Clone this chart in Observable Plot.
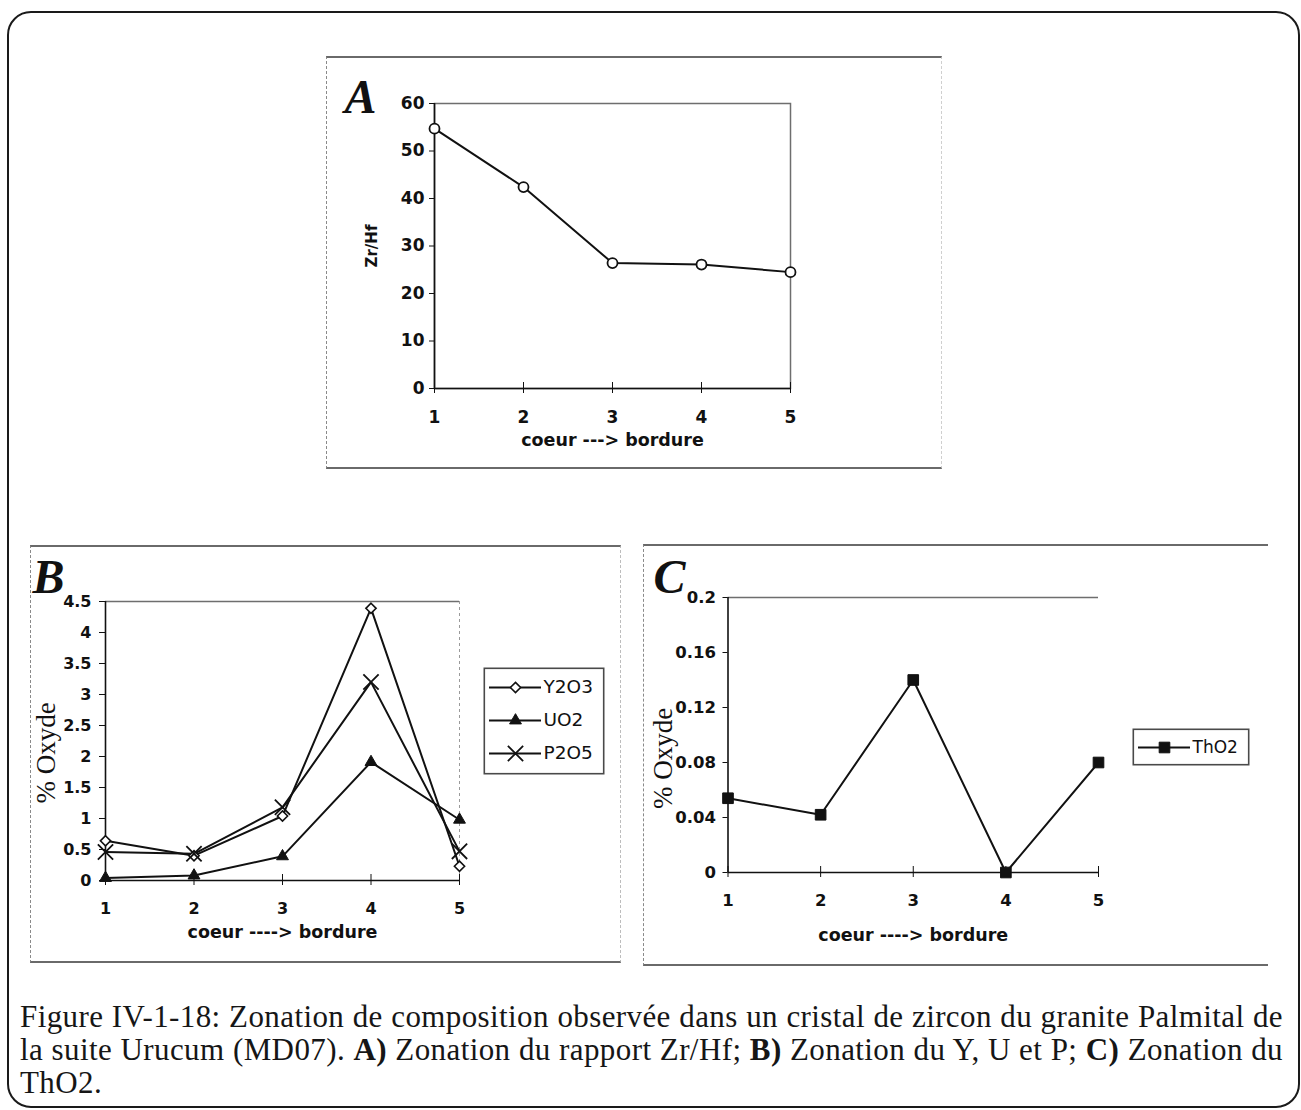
<!DOCTYPE html>
<html>
<head>
<meta charset="utf-8">
<script src="https://cdn.jsdelivr.net/npm/d3@7"></script>
<script src="https://cdn.jsdelivr.net/npm/@observablehq/plot@0.6"></script>
<style>
  html, body { margin: 0; padding: 0; background: #fff; }
  #root { position: relative; width: 1301px; height: 1110px; overflow: hidden; background: #fff; }
  .abs { position: absolute; box-sizing: border-box; }
  .outer { left: 7px; top: 11px; width: 1293px; height: 1097px; border: 2.5px solid #1a1a1a; border-radius: 24px; }
  .panel { border-top: 2px solid #6a6a6a; border-bottom: 2px solid #6a6a6a; border-left: 1.5px dashed #8a8a8a; }
  .cap { font-family: "Liberation Serif", "Times New Roman", serif; font-size: 31px; line-height: 33px; letter-spacing: 0.4px; color: #161616; }
  .cap .ln { display: block; height: 33px; }
  .cap .ln span { white-space: nowrap; display: inline-block; }
  .cap b { font-weight: bold; }
  svg { overflow: visible; }
</style>
</head>
<body>
<div id="root">
  <div class="abs outer"></div>
  <div class="abs panel" style="left:326px;top:56px;width:616px;height:413px;border-right:1px dashed #cfcfcf;"></div>
  <div class="abs panel" style="left:30px;top:545px;width:591px;height:418px;border-right:1px dashed #bdbdbd;"></div>
  <div class="abs panel" style="left:643px;top:544px;width:625px;height:422px;"></div>
  <div id="plotA" class="abs" style="left:330px;top:60px;"></div>
  <div id="plotB" class="abs" style="left:32px;top:550px;"></div>
  <div id="legB" class="abs" style="left:483px;top:667px;"></div>
  <div id="plotC" class="abs" style="left:645px;top:548px;"></div>
  <div id="legC" class="abs" style="left:1132px;top:728px;"></div>
  <div class="abs cap" style="left:20px;top:1000px;width:1263px;">
    <div class="ln"><span class="fit">Figure IV-1-18: Zonation de composition observée dans un cristal de zircon du granite Palmital de</span></div>
    <div class="ln"><span class="fit">la suite Urucum (MD07). <b>A)</b> Zonation du rapport Zr/Hf; <b>B)</b> Zonation du Y, U et P; <b>C)</b> Zonation du</span></div>
    <div class="ln"><span>ThO2.</span></div>
  </div>
</div>
<script>
// ---------------- data ----------------
const positions = [1, 2, 3, 4, 5];            // coeur ---> bordure
const xTicks = [1, 2, 3, 4, 5];
const xTitleA = "coeur ---> bordure";
const xTitleBC = "coeur ----> bordure";

// Panel A : Zr/Hf
const zrHf = [54.7, 42.4, 26.4, 26.1, 24.5];
const yTicksA = [0, 10, 20, 30, 40, 50, 60];
const yTitleA = "Zr/Hf";

// Panel B : oxides (%)
const seriesB = ["Y2O3", "UO2", "P2O5"];
const y2o3 = [0.64, 0.40, 1.04, 4.39, 0.23];
const uo2  = [0.04, 0.08, 0.39, 1.91, 0.98];
const p2o5 = [0.46, 0.43, 1.18, 3.20, 0.47];
const yTicksB = [0, 0.5, 1, 1.5, 2, 2.5, 3, 3.5, 4, 4.5];

// Panel C : ThO2 (%)
const seriesC = ["ThO2"];
const tho2 = [0.054, 0.042, 0.140, 0.0, 0.080];
const yTicksC = [0, 0.04, 0.08, 0.12, 0.16, 0.2];

const yTitleBC = "% Oxyde";
const panelLetters = ["A", "B", "C"];

// ---------------- styles ----------------
const INK = "#111";
const FRAME = "#6e6e6e";
const baseStyle = {fontFamily: "'DejaVu Sans', sans-serif", fontWeight: "bold", background: "transparent", color: INK, overflow: "visible"};
const markerStyle = {
  "Y2O3": {symbol: "diamond2", r: 4.6, fill: "white", stroke: INK, strokeWidth: 1.6},
  "UO2":  {symbol: "triangle", r: 4.4, fill: INK, stroke: INK, strokeWidth: 1},
  "P2O5": {symbol: "times", r: 7, fill: "none", stroke: INK, strokeWidth: 1.8},
  "ThO2": {symbol: "square", r: 6, fill: INK, stroke: INK, strokeWidth: 1}
};
const letterStyle = {frameAnchor: "top-left", textAnchor: "start", lineAnchor: "middle", fontFamily: "'Liberation Serif', serif", fontStyle: "italic", fontWeight: "bold", fontSize: 48};
const serifTitle = {frameAnchor: "left", rotate: -90, textAnchor: "middle", lineAnchor: "middle", fontFamily: "'Liberation Serif', serif", fontWeight: "normal", fontSize: 27};

function axes(yTicks, o) {
  return [
    Plot.axisY({ticks: yTicks, tickSize: o.yTickSize, tickPadding: o.yPad, tickFormat: d => String(d), label: null, fontSize: o.fs, stroke: INK}),
    Plot.axisX({ticks: xTicks, tickSize: 11, dy: -6, tickFormat: () => "", label: null, stroke: INK}),
    Plot.axisX({ticks: xTicks, tickSize: 0, tickPadding: o.xPad, tickFormat: d => String(d), label: null, fontSize: o.fs})
  ];
}

// ---------------- Panel A ----------------
const dataA = positions.map((p, i) => ({pos: p, val: zrHf[i]}));
const plotA = Plot.plot({
  width: 600, height: 400,
  marginLeft: 104, marginRight: 140, marginTop: 43, marginBottom: 72,
  x: {domain: [xTicks[0], xTicks[xTicks.length - 1]], label: null},
  y: {domain: [yTicksA[0], yTicksA[yTicksA.length - 1]], label: null},
  style: {...baseStyle, fontSize: "17px"},
  marks: [
    Plot.frame({stroke: FRAME, strokeWidth: 1.5}),
    Plot.ruleY([yTicksA[0]], {stroke: INK, strokeWidth: 1.6}),
    Plot.ruleX([xTicks[0]], {stroke: INK, strokeWidth: 1.6}),
    ...axes(yTicksA, {yTickSize: 5, yPad: 5, xPad: 22, fs: 17}),
    Plot.line(dataA, {x: "pos", y: "val", stroke: INK, strokeWidth: 2}),
    Plot.dot(dataA, {x: "pos", y: "val", r: 5, fill: "white", stroke: INK, strokeWidth: 1.8}),
    Plot.text([yTitleA], {frameAnchor: "left", rotate: -90, textAnchor: "middle", lineAnchor: "middle", dx: -62, fontSize: 15}),
    Plot.text([xTitleA], {frameAnchor: "bottom", dy: 57, fontSize: 17.5}),
    Plot.text([panelLetters[0]], {...letterStyle, dx: -90, dy: -6})
  ]
});
document.getElementById("plotA").append(plotA);

// ---------------- Panel B ----------------
const valsB = {"Y2O3": y2o3, "UO2": uo2, "P2O5": p2o5};
const dataB = seriesB.flatMap(s => positions.map((p, i) => ({pos: p, val: valsB[s][i], series: s})));
const plotB = Plot.plot({
  width: 586, height: 410,
  marginLeft: 73, marginRight: 159, marginTop: 51, marginBottom: 80,
  x: {domain: [xTicks[0], xTicks[xTicks.length - 1]], label: null},
  y: {domain: [yTicksB[0], yTicksB[yTicksB.length - 1]], label: null},
  style: {...baseStyle, fontSize: "16px"},
  marks: [
    Plot.ruleY([yTicksB[yTicksB.length - 1]], {stroke: FRAME, strokeWidth: 1.5}),
    Plot.ruleX([xTicks[xTicks.length - 1]], {stroke: "#9a9a9a", strokeWidth: 1, strokeDasharray: "3,3"}),
    Plot.ruleY([yTicksB[0]], {stroke: INK, strokeWidth: 1.6}),
    Plot.ruleX([xTicks[0]], {stroke: INK, strokeWidth: 1.6}),
    ...axes(yTicksB, {yTickSize: 6, yPad: 8, xPad: 22, fs: 16}),
    Plot.line(dataB, {x: "pos", y: "val", z: "series", stroke: INK, strokeWidth: 2}),
    ...seriesB.map(s => Plot.dot(dataB.filter(d => d.series === s), {x: "pos", y: "val", ...markerStyle[s]})),
    Plot.text([yTitleBC], {...serifTitle, dx: -59, dy: 12}),
    Plot.text([xTitleBC], {frameAnchor: "bottom", dy: 57, fontSize: 17.5}),
    Plot.text([panelLetters[1]], {...letterStyle, dx: -73, dy: -24})
  ]
});
document.getElementById("plotB").append(plotB);

function legend(series, w, h, yRange, fs) {
  return Plot.plot({
    width: w, height: h, margin: 0,
    x: {domain: [0, 1], range: [6, 58], axis: null},
    y: {type: "point", domain: series, range: yRange, padding: 0, axis: null},
    style: {...baseStyle, fontWeight: "normal", fontSize: fs + "px"},
    marks: [
      Plot.frame({stroke: "#4a4a4a", strokeWidth: 1.6, inset: 0.8}),
      Plot.ruleY(series, {y: d => d, x1: 0, x2: 1, stroke: INK, strokeWidth: 1.8}),
      ...series.map(s => Plot.dot([s], {x: 0.5, y: d => d, ...markerStyle[s]})),
      Plot.text(series, {x: 1, y: d => d, dx: 2, textAnchor: "start", fontSize: fs, fontWeight: "normal", fill: INK})
    ]
  });
}
document.getElementById("legB").append(legend(seriesB, 121, 107, [20, 86], 18.5));

// ---------------- Panel C ----------------
const dataC = positions.map((p, i) => ({pos: p, val: tho2[i]}));
const plotC = Plot.plot({
  width: 620, height: 412,
  marginLeft: 82.5, marginRight: 167, marginTop: 49, marginBottom: 88,
  x: {domain: [xTicks[0], xTicks[xTicks.length - 1]], label: null},
  y: {domain: [yTicksC[0], yTicksC[yTicksC.length - 1]], label: null},
  style: {...baseStyle, fontSize: "16.5px"},
  marks: [
    Plot.ruleY([yTicksC[yTicksC.length - 1]], {stroke: FRAME, strokeWidth: 1.5}),
    Plot.ruleY([yTicksC[0]], {stroke: INK, strokeWidth: 1.6}),
    Plot.ruleX([xTicks[0]], {stroke: INK, strokeWidth: 1.6}),
    ...axes(yTicksC, {yTickSize: 5, yPad: 7, xPad: 22, fs: 16.5}),
    Plot.line(dataC, {x: "pos", y: "val", stroke: INK, strokeWidth: 2}),
    Plot.dot(dataC, {x: "pos", y: "val", ...markerStyle["ThO2"]}),
    Plot.text([yTitleBC], {...serifTitle, dx: -65, dy: 23.5}),
    Plot.text([xTitleBC], {frameAnchor: "bottom", dy: 68, fontSize: 17.5}),
    Plot.text([panelLetters[2]], {...letterStyle, dx: -74.5, dy: -20})
  ]
});
document.getElementById("plotC").append(plotC);
document.getElementById("legC").append(legend(seriesC, 117, 37, [18.5, 18.5], 17));

// ---------------- caption: justify the first two lines to the box width ----------------
const capTarget = 1263;
document.querySelectorAll(".cap .fit").forEach(el => {
  const natural = el.getBoundingClientRect().width;
  const spaces = (el.textContent.match(/ /g) || []).length;
  if (spaces > 0) {
    const extra = (capTarget - natural) / spaces;
    el.style.wordSpacing = extra + "px";
  }
});
</script>
</body>
</html>
